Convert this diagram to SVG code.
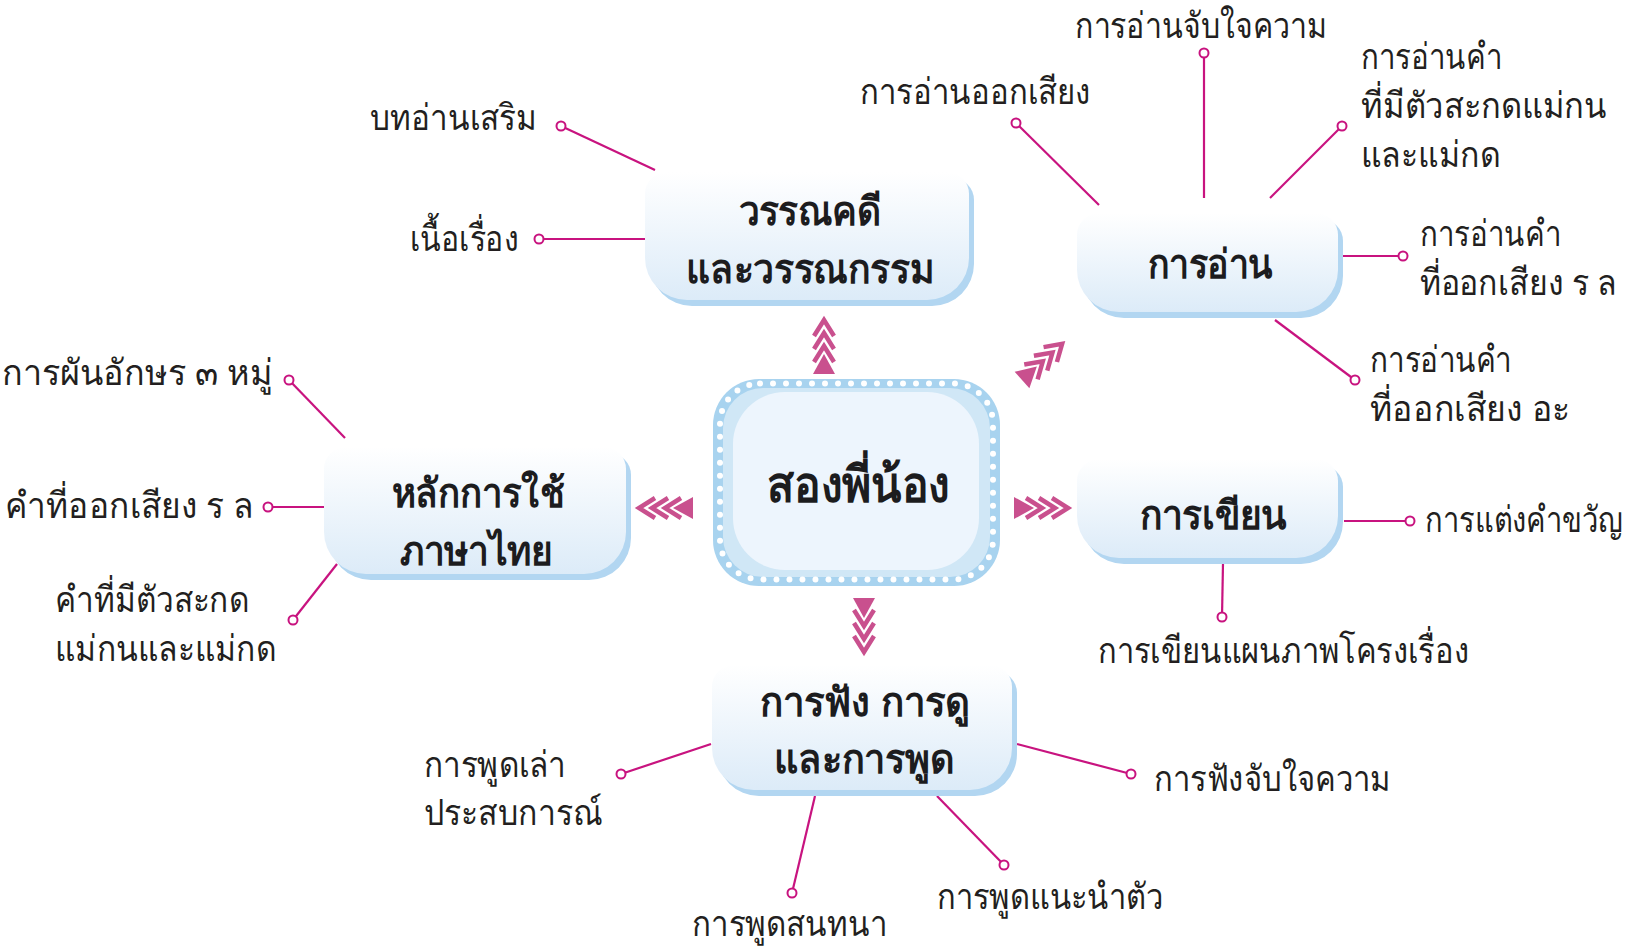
<svg xmlns="http://www.w3.org/2000/svg" width="1636" height="952" viewBox="0 0 1636 952">
<style>
.leaf{font-family:"Noto Sans","DejaVu Sans",sans-serif;font-size:36px;font-weight:300;fill:#231f20;}
.nt{font-family:"Noto Sans","DejaVu Sans",sans-serif;font-size:40px;font-weight:bold;fill:#1c1c1e;text-anchor:middle;}
.ct{font-family:"Noto Sans","DejaVu Sans",sans-serif;font-size:50px;font-weight:bold;fill:#1c1c1e;text-anchor:middle;}
.ln{stroke:#c8137f;stroke-width:2.2;fill:none;}
.dot{fill:#fff;stroke:#c8137f;stroke-width:2;}
.box{fill:url(#bg);}
.sh{fill:#b2d6f1;}
.chev{fill:none;stroke:#c9508e;stroke-width:4.5;stroke-linejoin:miter;}
</style>
<defs>
<linearGradient id="bg" x1="0" y1="0" x2="0" y2="1">
<stop offset="0" stop-color="#ffffff"/>
<stop offset="1" stop-color="#dcebf8"/>
</linearGradient>
<g id="arr">
<polygon points="0,-11 20,0 0,11" fill="#c9508e"/>
<polyline class="chev" points="12,-10 28,0 12,10"/>
<polyline class="chev" points="25,-10 41,0 25,10"/>
<polyline class="chev" points="38,-10 54,0 38,10"/>
</g>
</defs>

<g id="connectors">
<line class="ln" x1="655" y1="170" x2="561" y2="126"/><circle class="dot" cx="561" cy="126" r="4.5"/>
<line class="ln" x1="645" y1="239" x2="539" y2="239"/><circle class="dot" cx="539" cy="239" r="4.5"/>
<line class="ln" x1="1099" y1="205" x2="1016" y2="123"/><circle class="dot" cx="1016" cy="123" r="4.5"/>
<line class="ln" x1="1204" y1="198" x2="1204" y2="53"/><circle class="dot" cx="1204" cy="53" r="4.5"/>
<line class="ln" x1="1270" y1="198" x2="1342" y2="126"/><circle class="dot" cx="1342" cy="126" r="4.5"/>
<line class="ln" x1="1343" y1="256" x2="1403" y2="256"/><circle class="dot" cx="1403" cy="256" r="4.5"/>
<line class="ln" x1="1275" y1="320" x2="1355" y2="380"/><circle class="dot" cx="1355" cy="380" r="4.5"/>
<line class="ln" x1="345" y1="438" x2="289" y2="380"/><circle class="dot" cx="289" cy="380" r="4.5"/>
<line class="ln" x1="324" y1="507" x2="268" y2="507"/><circle class="dot" cx="268" cy="507" r="4.5"/>
<line class="ln" x1="337" y1="564" x2="293" y2="620"/><circle class="dot" cx="293" cy="620" r="4.5"/>
<line class="ln" x1="1344" y1="521" x2="1410" y2="521"/><circle class="dot" cx="1410" cy="521" r="4.5"/>
<line class="ln" x1="1223" y1="563" x2="1222" y2="617"/><circle class="dot" cx="1222" cy="617" r="4.5"/>
<line class="ln" x1="711" y1="744" x2="621" y2="774"/><circle class="dot" cx="621" cy="774" r="4.5"/>
<line class="ln" x1="815" y1="796" x2="792" y2="893"/><circle class="dot" cx="792" cy="893" r="4.5"/>
<line class="ln" x1="937" y1="796" x2="1004" y2="865"/><circle class="dot" cx="1004" cy="865" r="4.5"/>
<line class="ln" x1="1017" y1="744" x2="1131" y2="774"/><circle class="dot" cx="1131" cy="774" r="4.5"/>
<use href="#arr" transform="translate(1014,508)"/>
<use href="#arr" transform="translate(693,508) rotate(180)"/>
<use href="#arr" transform="translate(864,598) rotate(90)"/>
<use href="#arr" transform="translate(824,374) rotate(-90)"/>
<use href="#arr" transform="translate(1022,380) rotate(-42)"/>
</g>

<g id="center">
<rect x="713" y="379" width="287" height="207" rx="46" fill="#a8d3ef"/>
<rect x="723" y="388" width="267" height="189" rx="40" fill="#d0e7f6"/>
<rect x="720" y="383.5" width="273" height="196" rx="40" fill="none" stroke="#ffffff" stroke-width="6" stroke-linecap="round" stroke-dasharray="0 13"/>
<rect x="733" y="392" width="246" height="178" rx="52" fill="#edf5fd"/>
<text class="ct" x="858" y="502" textLength="183" lengthAdjust="spacingAndGlyphs">สองพี่น้อง</text>
</g>

<g id="node-literature">
<path class="sh" transform="translate(5,6)" d="M667,172 H947 A22,22 0 0 1 969,194 V258 A42,42 0 0 1 927,300 H687 A42,42 0 0 1 645,258 V194 A22,22 0 0 1 667,172 Z"/>
<path class="box" d="M667,172 H947 A22,22 0 0 1 969,194 V258 A42,42 0 0 1 927,300 H687 A42,42 0 0 1 645,258 V194 A22,22 0 0 1 667,172 Z"/>
<text class="nt" x="810" y="225" textLength="143" lengthAdjust="spacingAndGlyphs">วรรณคดี</text>
<text class="nt" x="810" y="283" textLength="248" lengthAdjust="spacingAndGlyphs">และวรรณกรรม</text>
</g>

<g id="node-reading">
<path class="sh" transform="translate(5,6)" d="M1099,213 H1316 A22,22 0 0 1 1338,235 V270 A42,42 0 0 1 1296,312 H1119 A42,42 0 0 1 1077,270 V235 A22,22 0 0 1 1099,213 Z"/>
<path class="box" d="M1099,213 H1316 A22,22 0 0 1 1338,235 V270 A42,42 0 0 1 1296,312 H1119 A42,42 0 0 1 1077,270 V235 A22,22 0 0 1 1099,213 Z"/>
<text class="nt" x="1210" y="278" textLength="125" lengthAdjust="spacingAndGlyphs">การอ่าน</text>
</g>

<g id="node-thai">
<path class="sh" transform="translate(5,6)" d="M346,447 H604 A22,22 0 0 1 626,469 V532 A42,42 0 0 1 584,574 H366 A42,42 0 0 1 324,532 V469 A22,22 0 0 1 346,447 Z"/>
<path class="box" d="M346,447 H604 A22,22 0 0 1 626,469 V532 A42,42 0 0 1 584,574 H366 A42,42 0 0 1 324,532 V469 A22,22 0 0 1 346,447 Z"/>
<text class="nt" x="478" y="507" textLength="173" lengthAdjust="spacingAndGlyphs">หลักการใช้</text>
<text class="nt" x="476" y="565" textLength="153" lengthAdjust="spacingAndGlyphs">ภาษาไทย</text>
</g>

<g id="node-writing">
<path class="sh" transform="translate(5,6)" d="M1099,459 H1316 A22,22 0 0 1 1338,481 V516 A42,42 0 0 1 1296,558 H1119 A42,42 0 0 1 1077,516 V481 A22,22 0 0 1 1099,459 Z"/>
<path class="box" d="M1099,459 H1316 A22,22 0 0 1 1338,481 V516 A42,42 0 0 1 1296,558 H1119 A42,42 0 0 1 1077,516 V481 A22,22 0 0 1 1099,459 Z"/>
<text class="nt" x="1213" y="529" textLength="147" lengthAdjust="spacingAndGlyphs">การเขียน</text>
</g>

<g id="node-listening">
<path class="sh" transform="translate(5,6)" d="M734,665 H990 A22,22 0 0 1 1012,687 V748 A42,42 0 0 1 970,790 H754 A42,42 0 0 1 712,748 V687 A22,22 0 0 1 734,665 Z"/>
<path class="box" d="M734,665 H990 A22,22 0 0 1 1012,687 V748 A42,42 0 0 1 970,790 H754 A42,42 0 0 1 712,748 V687 A22,22 0 0 1 734,665 Z"/>
<text class="nt" x="865" y="716" textLength="210" lengthAdjust="spacingAndGlyphs">การฟัง การดู</text>
<text class="nt" x="864" y="773" textLength="181" lengthAdjust="spacingAndGlyphs">และการพูด</text>
</g>

<g id="leaves">
<text class="leaf" x="370" y="130" textLength="167" lengthAdjust="spacingAndGlyphs">บทอ่านเสริม</text>
<text class="leaf" x="410" y="251" textLength="109" lengthAdjust="spacingAndGlyphs">เนื้อเรื่อง</text>
<text class="leaf" x="860" y="104" textLength="231" lengthAdjust="spacingAndGlyphs">การอ่านออกเสียง</text>
<text class="leaf" x="1075" y="38" textLength="252" lengthAdjust="spacingAndGlyphs">การอ่านจับใจความ</text>
<text class="leaf" x="1361" y="69" textLength="141" lengthAdjust="spacingAndGlyphs">การอ่านคำ</text>
<text class="leaf" x="1361" y="118" textLength="246" lengthAdjust="spacingAndGlyphs">ที่มีตัวสะกดแม่กน</text>
<text class="leaf" x="1361" y="167" textLength="139" lengthAdjust="spacingAndGlyphs">และแม่กด</text>
<text class="leaf" x="1420" y="246" textLength="141" lengthAdjust="spacingAndGlyphs">การอ่านคำ</text>
<text class="leaf" transform="translate(1420,295) scale(0.89,1)">ที่ออกเสียง ร ล</text>
<text class="leaf" x="1370" y="372" textLength="142" lengthAdjust="spacingAndGlyphs">การอ่านคำ</text>
<text class="leaf" x="1370" y="421" textLength="200" lengthAdjust="spacingAndGlyphs">ที่ออกเสียง อะ</text>
<text class="leaf" x="2" y="385" textLength="271" lengthAdjust="spacingAndGlyphs">การผันอักษร ๓ หมู่</text>
<text class="leaf" x="5" y="518" textLength="248" lengthAdjust="spacingAndGlyphs">คำที่ออกเสียง ร ล</text>
<text class="leaf" x="55" y="612" textLength="194" lengthAdjust="spacingAndGlyphs">คำที่มีตัวสะกด</text>
<text class="leaf" x="55" y="661" textLength="221" lengthAdjust="spacingAndGlyphs">แม่กนและแม่กด</text>
<text class="leaf" transform="translate(1425,532) scale(0.81,1)">การแต่งคำขวัญ</text>
<text class="leaf" x="1098" y="663" textLength="371" lengthAdjust="spacingAndGlyphs">การเขียนแผนภาพโครงเรื่อง</text>
<text class="leaf" x="424" y="777" textLength="142" lengthAdjust="spacingAndGlyphs">การพูดเล่า</text>
<text class="leaf" x="424" y="825" textLength="178" lengthAdjust="spacingAndGlyphs">ประสบการณ์</text>
<text class="leaf" x="692" y="936" textLength="195" lengthAdjust="spacingAndGlyphs">การพูดสนทนา</text>
<text class="leaf" x="937" y="909" textLength="226" lengthAdjust="spacingAndGlyphs">การพูดแนะนำตัว</text>
<text class="leaf" x="1154" y="791" textLength="237" lengthAdjust="spacingAndGlyphs">การฟังจับใจความ</text>
</g>
</svg>
